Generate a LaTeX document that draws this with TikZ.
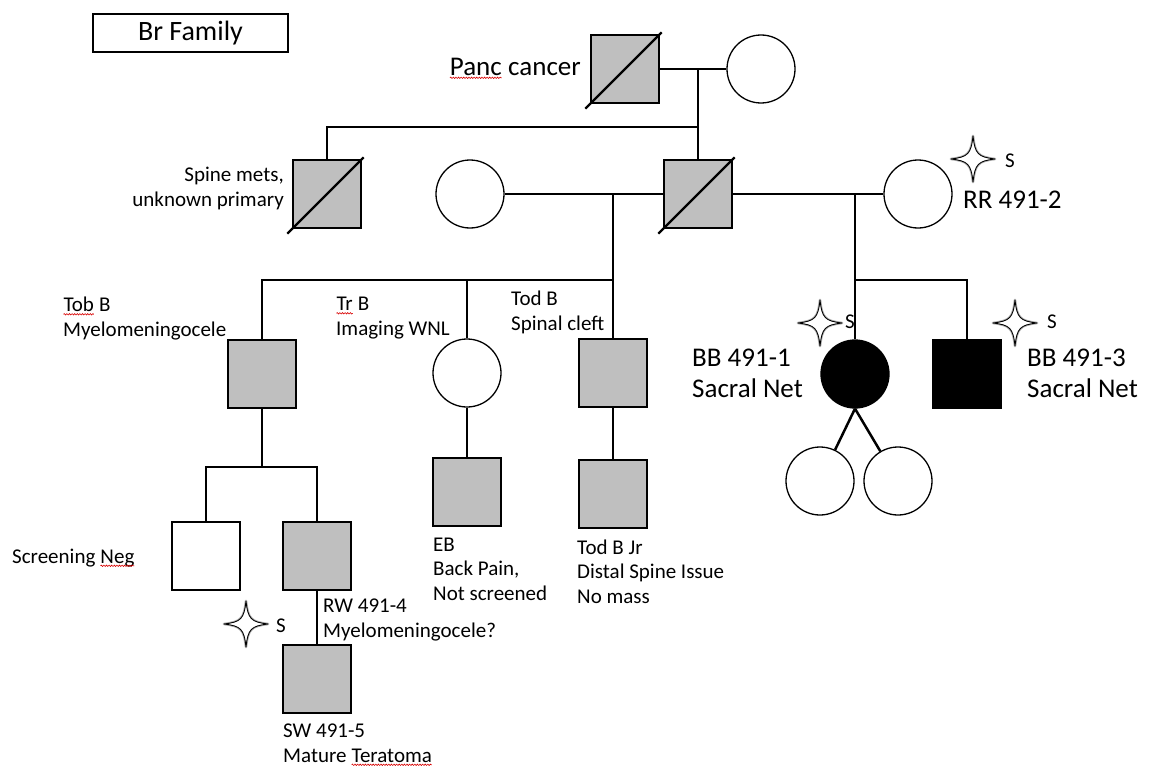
\documentclass[tikz,border=0pt]{standalone}
\usepackage{fontspec}
\setmainfont{Carlito}
\usetikzlibrary{decorations.pathmorphing}
\newcommand\spellerr[1]{\tikz[baseline=(w.base)]{\node[inner sep=0pt,outer sep=0pt,anchor=base,align=none,draw=none,fill=none](w){#1};\draw[red!85!black,line width=0.6pt,decorate,decoration={snake,amplitude=0.7pt,segment length=2.6pt}]([yshift=-2.8pt]w.base west)--([yshift=-2.8pt]w.base east);}}
\tikzset{
 conn/.style={line width=2.5pt},
 sq/.style={draw, line width=1.3pt, minimum size=68pt, inner sep=0pt, rectangle},
 ci/.style={draw, line width=1.3pt, minimum size=68pt, inner sep=0pt, circle, fill=white},
 aff/.style={fill=black!25},
 full/.style={fill=black},
 dec/.style={line width=2.3pt},
 lbl/.style={font=\fontsize{21}{24.5}\selectfont, inner sep=0pt, align=left, anchor=base west},
 big/.style={font=\fontsize{27}{31}\selectfont, inner sep=0pt, align=left, anchor=base west},
 sparkle/.pic={
   \path[draw=black!30,line width=2.6pt,line join=round]
     (22,0) .. controls (5,2) and (2,5) .. (0,23) .. controls (-2,5) and (-5,2) .. (-22,0)
     .. controls (-5,-2) and (-2,-5) .. (0,-23) .. controls (2,-5) and (5,-2) .. (22,0) -- cycle;
   \path[draw=black,fill=white,line width=0.9pt,line join=round]
     (22,0) .. controls (5,2) and (2,5) .. (0,23) .. controls (-2,5) and (-5,2) .. (-22,0)
     .. controls (-5,-2) and (-2,-5) .. (0,-23) .. controls (2,-5) and (5,-2) .. (22,0) -- cycle;
 }
}
\begin{document}
\begin{tikzpicture}[x=1pt,y=-1pt]
\useasboundingbox[fill=white] (0,0) rectangle (1149,768);
\node[draw,line width=1.2pt,minimum width=195pt,minimum height=38pt,inner sep=0pt,font=\fontsize{28}{32}\selectfont] (title) at (190.5,33) {Br Family};

\node[sq,aff] (pancf) at (625,69) {};
\node[ci] (pancm) at (761,69) {};
\node[sq,aff] (spine) at (327,194) {};
\node[ci] (wife1) at (470,194) {};
\node[sq,aff] (father) at (698,194) {};
\node[ci] (rr) at (918,194) {};
\node[sq,aff] (tob) at (262,374) {};
\node[ci] (trb) at (467,373) {};
\node[sq,aff] (todb) at (613,373) {};
\node[ci,full] (bb1) at (855,374) {};
\node[sq,full] (bb3) at (967,374) {};
\node[ci] (twinl) at (820,481) {};
\node[ci] (twinr) at (898,481) {};
\node[sq,fill=white] (scr) at (206,556) {};
\node[sq,aff] (rw) at (317,556) {};
\node[sq,aff] (sw) at (317,679) {};
\node[sq,aff] (eb) at (467,492) {};
\node[sq,aff] (tbjr) at (613,494) {};

\foreach \n in {pancf,spine,father}
  \draw[dec] ([shift={(-5,5)}]\n.south west) -- ([shift={(2,-2)}]\n.north east);

\draw[conn] (pancf.east) -- (pancm.west);
\coordinate (m1) at (pancf.east -| father.north);
\coordinate (s0) at (698,127);
\draw[conn] (m1) -- (father.north);
\draw[conn] (s0) -| (spine.north);
\draw[conn] (wife1.east) -- (father.west);
\draw[conn] (father.east) -- (rr.west);
\coordinate (m2) at (613,194);
\coordinate (s1) at (613,280);
\draw[conn] (m2) -- (todb.north);
\draw[conn] (s1) -| (tob.north);
\draw[conn] (trb.north |- s1) -- (trb.north);
\coordinate (m3) at (855,194);
\draw[conn] (m3) -- (bb1.north);
\draw[conn] (bb1.north |- s1) -| (bb3.north);
\draw[conn] (bb1.south) -- (twinl);
\draw[conn] (bb1.south) -- (twinr);
\coordinate (s3) at (262,467);
\draw[conn] (tob.south) -- (s3);
\draw[conn] (scr.north) |- (s3) -| (rw.north);
\draw[conn] (rw.south) -- (sw.north);
\draw[conn] (trb.south) -- (eb.north);
\draw[conn] (todb.south) -- (tbjr.north);

\node[big,anchor=base east] (lpanc) at (581,75) {\spellerr{Panc} cancer};
\node[lbl,align=right,anchor=base east] (lspine) at (284,206) {Spine mets,\\unknown primary};
\node[lbl] (ltob) at (63,336) {\spellerr{Tob} B\\Myelomeningocele};
\node[lbl] (ltr) at (336,335) {\spellerr{Tr} B\\Imaging WNL};
\node[lbl] (ltod) at (511,330) {Tod B\\Spinal cleft};
\node[lbl] (lscr) at (12,563) {Screening \spellerr{Neg}};
\node[lbl] (lrw) at (323,637) {RW 491-4\\Myelomeningocele?};
\node[lbl] (lsw) at (283,762) {SW 491-5\\Mature \spellerr{Teratoma}};
\node[lbl] (leb) at (433,600) {EB\\Back Pain,\\Not screened};
\node[lbl] (ljr) at (577,603) {Tod B Jr\\Distal Spine Issue\\No mass};
\node[big] (lbb1) at (692,397) {BB 491-1\\Sacral Net};
\node[big] (lbb3) at (1027,397) {BB 491-3\\Sacral Net};
\node[big] (lrr) at (963,208) {RR 491-2};

\pic at (973,159) {sparkle};
\node[lbl,anchor=center] (srr) at (1010,161) {S};
\pic at (820,323) {sparkle};
\node[lbl,anchor=center] (sbb1) at (850,322) {S};
\pic at (1015,323) {sparkle};
\node[lbl,anchor=center] (sbb3) at (1052,322) {S};
\pic at (246,624) {sparkle};
\node[lbl,anchor=center] (srw) at (281,626) {S};
\end{tikzpicture}
\end{document}
